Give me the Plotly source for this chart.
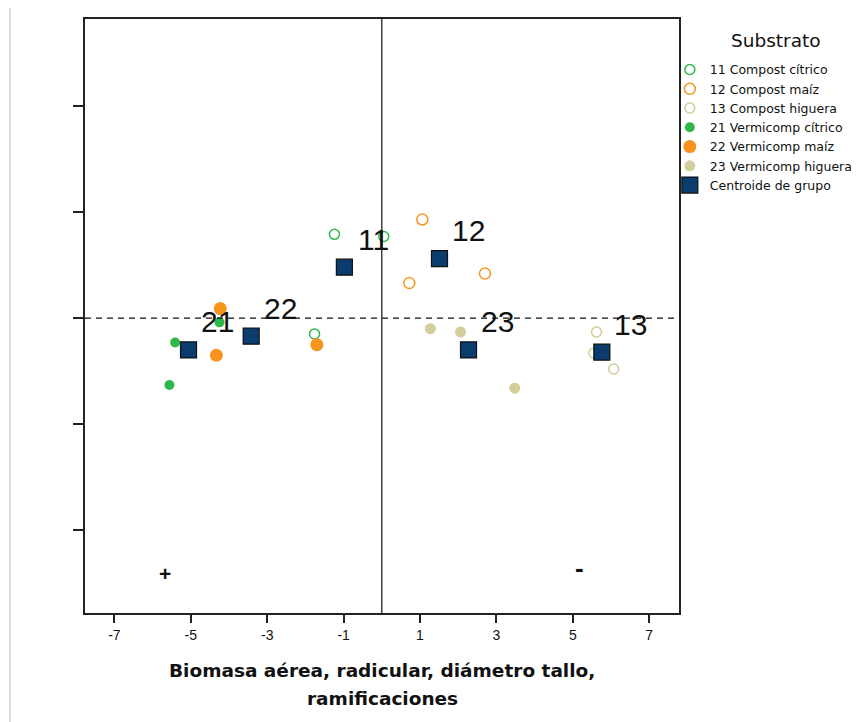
import plotly.graph_objects as go

# ---------------- data ----------------
groups = ["11", "12", "13", "21", "22", "23"]
names = ["11 Compost cítrico", "12 Compost maíz", "13 Compost higuera",
         "21 Vermicomp cítrico", "22 Vermicomp maíz", "23 Vermicomp higuera"]

x_11 = [-1.24, 0.05, -1.76]
y_11 = [0.79, 0.77, -0.15]
x_12 = [1.06, 0.72, 2.70]
y_12 = [0.93, 0.33, 0.42]
x_13 = [5.62, 6.07, 5.55]
y_13 = [-0.13, -0.48, -0.33]
x_21 = [-5.41, -4.25, -5.56]
y_21 = [-0.23, -0.04, -0.63]
x_22 = [-4.23, -4.33, -1.70]
y_22 = [0.09, -0.35, -0.25]
x_23 = [1.27, 2.06, 3.48]
y_23 = [-0.10, -0.13, -0.66]

centroid_x = [-0.98, 1.51, 5.76, -5.06, -3.42, 2.27]
centroid_y = [0.48, 0.56, -0.32, -0.30, -0.17, -0.30]

x_ticks = [-7, -5, -3, -1, 1, 3, 5, 7]
y_ticks = [-2, -1, 0, 1, 2]

# ---------------- styles ----------------
FONT = "Arial, Liberation Sans, sans-serif"
WIDE = "DejaVu Sans, Verdana, sans-serif"
green = "#2fb84a"
orange = "#f7941d"
beige = "#d4cd9c"
navy = "#0a3d6e"
ink = "#111111"

series = [
    (x_11, y_11, dict(symbol="circle-open", size=10, color=green, line=dict(width=1.5, color=green))),
    (x_12, y_12, dict(symbol="circle-open", size=11, color=orange, line=dict(width=1.5, color=orange))),
    (x_13, y_13, dict(symbol="circle-open", size=10, color=beige, line=dict(width=1.5, color=beige))),
    (x_21, y_21, dict(symbol="circle", size=10, color=green, line=dict(width=0))),
    (x_22, y_22, dict(symbol="circle", size=13, color=orange, line=dict(width=0))),
    (x_23, y_23, dict(symbol="circle", size=11, color=beige, line=dict(width=0))),
]

fig = go.Figure()
for (xs, ys, mk), nm in zip(series, names):
    fig.add_trace(go.Scatter(x=xs, y=ys, mode="markers", name=nm, marker=mk,
                             hoverinfo="x+y+name"))

fig.add_trace(go.Scatter(x=centroid_x, y=centroid_y, mode="markers",
                         name="Centroide de grupo",
                         marker=dict(symbol="square", size=16, color=navy,
                                     line=dict(width=1.2, color=ink))))

annotations = []
for g, cx, cy in zip(groups, centroid_x, centroid_y):
    annotations.append(dict(x=cx, y=cy, xref="x", yref="y", text=g, showarrow=False,
                            xshift=29, yshift=28,
                            font=dict(family=FONT, size=30, color=ink)))
annotations.append(dict(x=-5.67, y=-2.41, xref="x", yref="y", text="<b>+</b>", showarrow=False,
                        font=dict(family=FONT, size=21, color=ink)))
annotations.append(dict(x=5.17, y=-2.36, xref="x", yref="y", text="<b>-</b>", showarrow=False,
                        font=dict(family=FONT, size=26, color=ink)))
# x-axis title (two lines)
annotations.append(dict(x=0.5, y=0, xref="paper", yref="paper", yanchor="middle",
                        text="<b>Biomasa aérea, radicular, diámetro tallo,</b>", showarrow=False,
                        yshift=-57, font=dict(family=WIDE, size=18.5, color=ink)))
annotations.append(dict(x=0.5, y=0, xref="paper", yref="paper", yanchor="middle",
                        text="<b>ramificaciones</b>", showarrow=False,
                        yshift=-85, font=dict(family=WIDE, size=18.5, color=ink)))
# legend heading
annotations.append(dict(x=1, y=1, xref="paper", yref="paper", xanchor="center", yanchor="middle",
                        text="Substrato", showarrow=False, xshift=97, yshift=-21,
                        font=dict(family=WIDE, size=18.5, color=ink)))

fig.update_layout(
    width=864, height=722,
    margin=dict(l=77, r=193, t=11, b=117, autoexpand=False),
    paper_bgcolor="white", plot_bgcolor="white",
    font=dict(family=FONT, color=ink),
    annotations=annotations,
    showlegend=True,
    legend=dict(x=0.766, xanchor="left", y=0.935, yanchor="top",
                xref="container", yref="container",
                font=dict(family=WIDE, size=12.5, color=ink),
                itemwidth=30, tracegroupgap=0, bgcolor="rgba(0,0,0,0)"),
    shapes=[
        dict(type="line", xref="x", yref="paper", x0=0, x1=0, y0=0, y1=1,
             line=dict(color=ink, width=1.2)),
        dict(type="line", xref="paper", yref="y", x0=0, x1=1, y0=0, y1=0,
             line=dict(color=ink, width=1.2, dash="6px,5px")),
        dict(type="line", xref="paper", yref="paper", x0=-0.1264, x1=-0.1264,
             y0=-0.19, y1=1.024, line=dict(color="#dcdcdc", width=2)),
    ],
)

fig.update_xaxes(range=[-7.77, 7.78], tickvals=x_ticks, ticktext=[str(t) for t in x_ticks],
                 ticks="outside", ticklen=8, tickwidth=1.5, tickcolor="#222222",
                 showgrid=False, zeroline=False,
                 showline=True, linecolor="#222222", linewidth=1.8, mirror=True,
                 tickfont=dict(family=FONT, size=14, color=ink))
fig.update_yaxes(range=[-2.78, 2.82], tickvals=y_ticks, showticklabels=False,
                 ticks="outside", ticklen=10, tickwidth=1.5, tickcolor="#222222",
                 showgrid=False, zeroline=False,
                 showline=True, linecolor="#222222", linewidth=1.8, mirror=True)

fig.write_html("out.html")
